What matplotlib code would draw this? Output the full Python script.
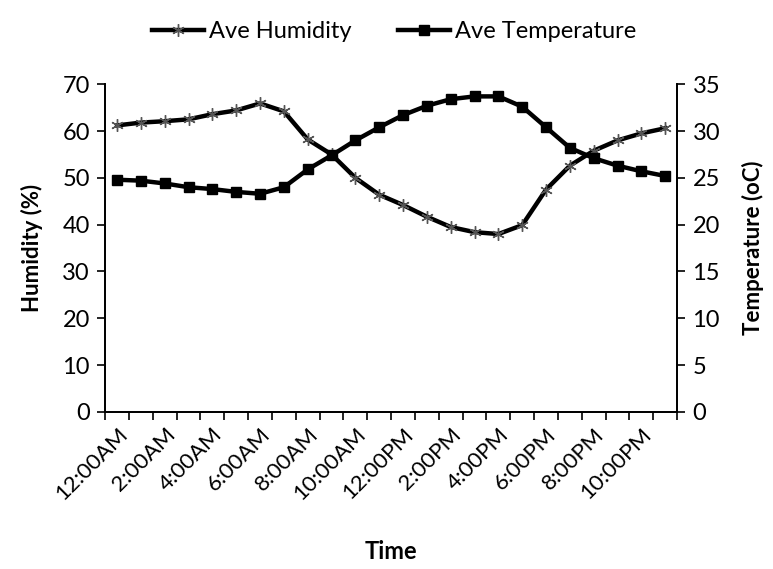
import numpy as np
import matplotlib.pyplot as plt

plt.rcParams['font.family'] = ['Lato', 'DejaVu Sans']

# hourly averages, 12:00AM .. 11:00PM
hours = np.arange(24)
humidity = [61.2, 61.8, 62.1, 62.5, 63.6, 64.4, 65.9, 64.2, 58.2, 55.0, 50.0, 46.4,
            44.2, 41.7, 39.5, 38.4, 38.0, 39.9, 47.5, 52.6, 55.8, 58.0, 59.5, 60.6]
temperature = [24.8, 24.7, 24.4, 24.0, 23.8, 23.5, 23.3, 24.0, 25.9, 27.4, 29.0, 30.4,
               31.7, 32.7, 33.4, 33.7, 33.7, 32.6, 30.4, 28.2, 27.1, 26.3, 25.7, 25.2]
time_labels = ['12:00AM', '2:00AM', '4:00AM', '6:00AM', '8:00AM', '10:00AM',
               '12:00PM', '2:00PM', '4:00PM', '6:00PM', '8:00PM', '10:00PM']

fig = plt.figure(figsize=(7.73, 5.69), dpi=100)
ax = fig.add_axes([0.136, 0.276, 0.740, 0.576])
ax2 = ax.twinx()

l1, = ax.plot(hours, humidity, color='black', lw=3.2, marker=(6, 2, 0),
              ms=9, mec='#555555', mew=1.0, label='Ave Humidity')
l2, = ax2.plot(hours, temperature, color='black', lw=3.2, marker='s',
               ms=7.5, mfc='black', mec='black', label='Ave Temperature')

ax.set_xlim(-0.5, 23.5)
ax.set_ylim(0, 70)
ax2.set_ylim(0, 35)
ax.set_yticks(np.arange(0, 71, 10))
ax2.set_yticks(np.arange(0, 36, 5))

# category axis: tick marks between categories, labels every 2 hours
ax.set_xticks(np.arange(-0.5, 24, 1), minor=True)
ax.set_xticks(hours[::2])
ax.set_xticklabels(time_labels, rotation=45, ha='right', rotation_mode='anchor')
ax.tick_params(axis='x', which='major', length=0, labelsize=16, pad=9)
ax.tick_params(axis='x', which='minor', length=6, width=1.2, direction='out')
ax.tick_params(axis='y', length=6, width=1.2, labelsize=17, pad=5)
ax2.tick_params(axis='y', length=6, width=1.2, labelsize=17, pad=5)

for a in (ax, ax2):
    a.spines['top'].set_visible(False)
    for s in ('left', 'right', 'bottom'):
        a.spines[s].set_linewidth(1.3)

ax.set_xlabel('Time', fontsize=17, fontweight='bold', labelpad=26)
ax.set_ylabel('Humidity (%)', fontsize=16, fontweight='bold', labelpad=14)
ax2.set_ylabel('Temperature (oC)', fontsize=16, fontweight='bold', labelpad=16)

fig.legend(handles=[l1, l2], loc='upper center', bbox_to_anchor=(0.51, 1.0),
           ncol=2, frameon=False, fontsize=17, handlelength=2.2,
           handletextpad=0.2, columnspacing=2.0)

plt.savefig('out.png', dpi=100)
